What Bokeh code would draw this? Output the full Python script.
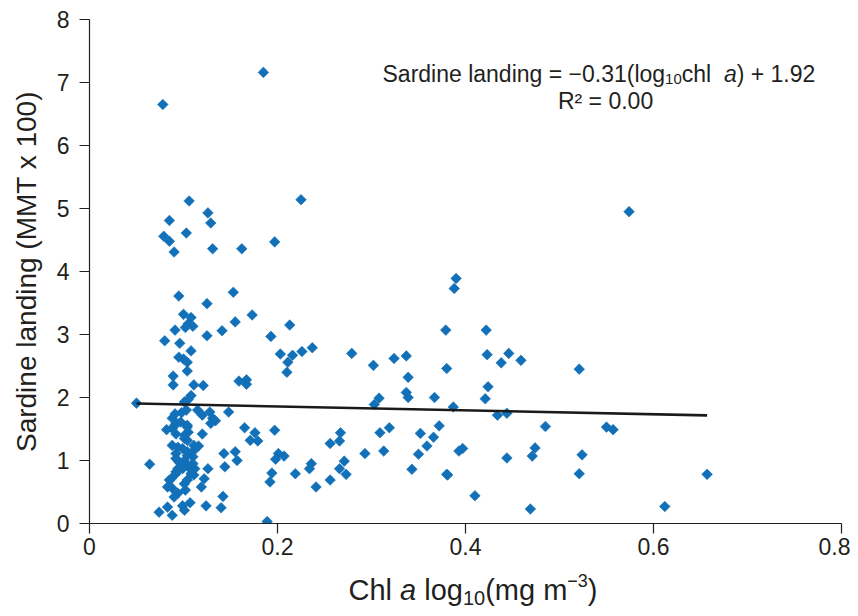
import numpy as np
from bokeh.plotting import figure
from bokeh.layouts import column
from bokeh.models import Label, FixedTicker, Range1d
from bokeh.core.properties import value
from bokeh.embed import file_html
from bokeh.resources import INLINE

# ---------------- data ----------------
chl_log10 = [
    0.078, 0.185, 0.225, 0.574, 0.197, 0.390, 0.388,
    0.106, 0.126, 0.129, 0.085, 0.103, 0.079, 0.085, 0.090, 0.131, 0.162,
    0.095, 0.153, 0.125, 0.173, 0.100, 0.108, 0.105, 0.110, 0.102, 0.091,
    0.155, 0.141, 0.125, 0.080, 0.096, 0.108, 0.095, 0.100, 0.104,
    0.213, 0.193, 0.203, 0.216, 0.211, 0.210, 0.226,
    0.104, 0.089, 0.089, 0.111, 0.121, 0.159, 0.167, 0.167, 0.108, 0.105, 0.101,
    0.237, 0.279, 0.302, 0.324, 0.337, 0.339, 0.337, 0.339, 0.308, 0.303, 0.367,
    0.379, 0.380,
    0.197, 0.201, 0.207, 0.198, 0.194, 0.192, 0.219, 0.236, 0.234, 0.241, 0.256,
    0.256, 0.267, 0.266, 0.271, 0.266, 0.273, 0.293, 0.309, 0.319, 0.313, 0.343,
    0.352, 0.366, 0.359, 0.350, 0.372, 0.380, 0.189,
    0.422, 0.423, 0.446, 0.438, 0.459, 0.521, 0.424, 0.421, 0.387, 0.434, 0.444,
    0.485, 0.550, 0.557, 0.393, 0.397, 0.474, 0.471, 0.444, 0.524, 0.381, 0.521,
    0.657, 0.410, 0.469, 0.612,
    0.050,
    0.091, 0.098, 0.103, 0.115, 0.128, 0.148, 0.120, 0.131, 0.134, 0.129, 0.088,
    0.097, 0.091, 0.082, 0.088, 0.104, 0.105, 0.092, 0.120, 0.165, 0.176, 0.171,
    0.179, 0.101, 0.104, 0.088, 0.116, 0.094, 0.099, 0.104, 0.111, 0.092, 0.143,
    0.155, 0.110, 0.157, 0.101, 0.064, 0.144, 0.097, 0.105, 0.094, 0.126, 0.112,
    0.108, 0.092, 0.122, 0.104, 0.087, 0.083, 0.088, 0.119, 0.101, 0.094, 0.090,
    0.102, 0.142, 0.074, 0.083, 0.088, 0.099, 0.101, 0.107, 0.124, 0.140,
    0.092, 0.104, 0.101, 0.111, 0.104, 0.092, 0.095, 0.110, 0.092, 0.099, 0.111,
    0.085,
]
landing = [
    6.65, 7.16, 5.14, 4.95, 4.47, 3.89, 3.73,
    5.12, 4.93, 4.77, 4.81, 4.61, 4.56, 4.48, 4.31, 4.36, 4.36,
    3.61, 3.67, 3.49, 3.31, 3.32, 3.27, 3.17, 3.13, 3.11, 3.07,
    3.20, 3.06, 2.98, 2.90, 2.86, 2.74, 2.64, 2.61, 2.56,
    3.15, 2.97, 2.69, 2.67, 2.56, 2.40, 2.73,
    2.42, 2.34, 2.20, 2.20, 2.19, 2.26, 2.28, 2.21, 2.03, 1.97, 1.93,
    2.79, 2.70, 2.51, 2.62, 2.66, 2.32, 2.08, 2.00, 1.99, 1.89, 2.00,
    3.07, 2.46,
    1.48, 1.11, 1.07, 1.02, 0.80, 0.66, 0.79, 0.95, 0.87, 0.58, 0.69,
    1.27, 1.44, 1.31, 0.99, 0.87, 0.78, 1.11, 1.44, 1.52, 1.15, 0.86,
    1.43, 1.37, 1.23, 1.10, 1.55, 0.78, 0.03,
    3.07, 2.68, 2.70, 2.55, 2.59, 2.45, 2.17, 1.98, 1.85, 1.72, 1.75,
    1.54, 1.53, 1.49, 1.15, 1.19, 1.20, 1.07, 1.04, 1.09, 0.77, 0.79,
    0.78, 0.44, 0.23, 0.27,
    1.91,
    1.74, 1.76, 1.80, 1.80, 1.77, 1.77, 1.72, 1.67, 1.63, 1.59, 1.67,
    1.61, 1.56, 1.49, 1.51, 1.56, 1.45, 1.42, 1.42, 1.52, 1.44, 1.32,
    1.31, 1.35, 1.32, 1.24, 1.23, 1.21, 1.19, 1.14, 1.16, 1.11, 1.11,
    1.14, 1.06, 1.00, 1.00, 0.94, 0.90, 0.95, 0.90, 0.87, 0.87, 0.87,
    0.79, 0.79, 0.71, 0.69, 0.71, 0.58, 0.56, 0.58, 0.63, 0.48, 0.42,
    0.53, 0.43, 0.18, 0.26, 0.13, 0.28, 0.21, 0.33, 0.28, 0.25,
    1.59, 1.53, 1.40, 1.24, 1.08, 1.03, 0.98, 0.95, 0.82, 0.87, 0.77,
    0.69,
]

x_ticks = [0, 0.2, 0.4, 0.6, 0.8]
x_tick_labels = ["0", "0.2", "0.4", "0.6", "0.8"]
y_ticks = [0, 1, 2, 3, 4, 5, 6, 7, 8]
y_tick_labels = ["0", "1", "2", "3", "4", "5", "6", "7", "8"]

fit_slope = -0.31
fit_intercept = 1.92
fit_x = [min(chl_log10), max(chl_log10)]
fit_y = [fit_slope * v + fit_intercept for v in fit_x]

# ---------------- styling ----------------
FONT = "Liberation Sans"
TXT = "#231f20"
BLUE = "#1270b8"

X0, X1, Y0, Y1 = 0.0, 0.8, 0.0, 8.0
FW, FH = 752, 504
BL, BR, BT, BB = 89, 9, 19, 50
OVERLAP = 20
STRIP_H = 53
PX_X = (X1 - X0) / FW   # data units per pixel
PX_Y = (Y1 - Y0) / FH

p = figure(frame_width=FW, frame_height=FH,
           x_range=(X0, X1), y_range=(Y0, Y1),
           output_backend="svg", toolbar_location=None,
           min_border_left=BL, min_border_right=BR,
           min_border_top=BT, min_border_bottom=BB)
p.outline_line_color = None
p.grid.visible = False
p.background_fill_color = "white"
p.border_fill_color = "white"

for ax in (p.xaxis[0], p.yaxis[0]):
    ax.axis_line_color = TXT
    ax.axis_line_width = 1.2
    ax.major_tick_line_color = TXT
    ax.major_tick_line_width = 1.2
    ax.major_tick_out = 10
    ax.major_tick_in = 0
    ax.minor_tick_line_color = None
    ax.major_label_text_font = FONT
    ax.major_label_text_font_size = "23px"
    ax.major_label_text_color = TXT

p.xaxis.ticker = FixedTicker(ticks=x_ticks)
p.xaxis.major_label_overrides = {t: l for t, l in zip(x_ticks, x_tick_labels)}
p.xaxis.major_label_standoff = 4
p.xaxis.axis_label = None
p.yaxis.ticker = FixedTicker(ticks=y_ticks)
p.yaxis.major_label_overrides = {t: l for t, l in zip(y_ticks, y_tick_labels)}
p.yaxis.major_label_standoff = 10

p.yaxis.axis_label = "Sardine landing (MMT x 100)"
p.yaxis.axis_label_text_font = FONT
p.yaxis.axis_label_text_font_size = "28px"
p.yaxis.axis_label_text_font_style = "normal"
p.yaxis.axis_label_text_color = TXT
p.yaxis.axis_label_standoff = 12

p.scatter(chl_log10, landing, marker="square", angle=np.pi / 4, size=7.5,
          fill_color=BLUE, line_color=BLUE, line_width=0.6)
p.line(fit_x, fit_y, line_color="#1a1a1a", line_width=2.6)

# ---------------- composed texts ----------------
ADV = {' ': 278, 'S': 667, 'a': 556, 'r': 333, 'd': 556, 'i': 222, 'n': 556,
       'e': 556, 'l': 222, 'g': 556, 'o': 556, '=': 584, '\u2212': 584,
       '.': 278, '(': 333, ')': 333, 'c': 500, 'h': 556, '+': 584, 'R': 722,
       '\u00b2': 333, 'C': 722, 'm': 833, 'M': 833, 'T': 611, 'x': 500}


def tw(s, size):
    return sum(ADV.get(ch, 556) for ch in s) * size / 1000.0


def lead_w(text, size):
    n = len(text) - len(text.lstrip(" "))
    return tw(" " * n, size)


def place(pieces, x_start, y_base):
    x = x_start
    for text, size, dy_px, italic in pieces:
        p.add_layout(Label(x=x + lead_w(text, size) * PX_X,
                           y=y_base - dy_px * PX_Y, text=text.strip(),
                           text_font=FONT, text_font_size=f"{size}px",
                           text_font_style="italic" if italic else "normal",
                           text_color=TXT, text_align="left",
                           text_baseline="alphabetic"))
        x += tw(text, size) * PX_X


# equation (line 1)
place([("Sardine landing = \u22120.31(log", 23, 0, False),
       ("10", 15, 5, False),
       ("chl  ", 23, 0, False),
       ("a", 23, 0, True),
       (") + 1.92", 23, 0, False)],
      x_start=0.3117, y_base=7.127)

# R^2 (line 2)
p.add_layout(Label(x=0.549, y=6.699, text="R\u00b2 = 0.00", text_font=FONT,
                   text_font_size="23px", text_color=TXT, text_align="center",
                   text_baseline="alphabetic"))

# ---------------- x-axis title strip (x in page pixels) ----------------
s = figure(frame_width=FW, frame_height=STRIP_H,
           x_range=Range1d(BL, BL + FW), y_range=Range1d(STRIP_H, 0),
           output_backend="svg", toolbar_location=None,
           x_axis_type=None, y_axis_type=None,
           min_border_left=BL, min_border_right=BR,
           min_border_top=0, min_border_bottom=0)
s.outline_line_color = None
s.grid.visible = False
s.background_fill_alpha = 0
s.border_fill_alpha = 0
s.margin = (-OVERLAP, 0, 0, 0)

title_pieces = [("Chl ", 29, 0, False),
                ("a", 29, 0, True),
                (" log", 29, 0, False),
                ("10", 20, 8, False),
                ("(mg m", 29, 0, False),
                ("\u22123", 18, -9, False),
                (")", 29, 0, False)]
xpos = 348.0
base = 36.0
for text, size, dy, italic in title_pieces:
    s.text(x=[xpos + lead_w(text, size)], y=[base + dy], text=[text.strip()],
           text_font=value(FONT), text_font_size=f"{size}px",
           text_font_style="italic" if italic else "normal",
           text_color=TXT, text_align="left", text_baseline="alphabetic")
    xpos += tw(text, size)

layout = column(p, s, spacing=0)
open("out.html", "w").write(file_html(layout, INLINE))
